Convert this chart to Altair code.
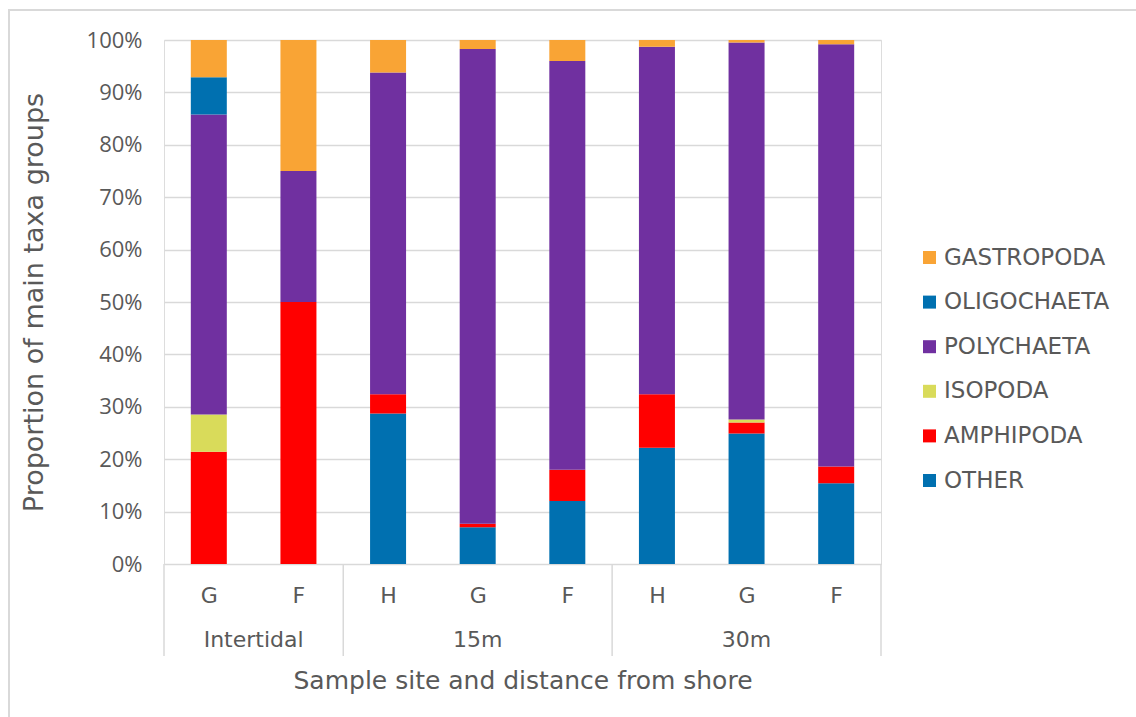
import json
import altair as alt
import pandas as pd

# ---- data ----
groups = ["Intertidal", "Intertidal", "15m", "15m", "15m", "30m", "30m", "30m"]
sites = ["G", "F", "H", "G", "F", "H", "G", "F"]

# stack order, bottom to top
taxa = ["OTHER", "AMPHIPODA", "ISOPODA", "POLYCHAETA", "OLIGOCHAETA", "GASTROPODA"]
OTHER = [0.0, 0.0, 28.7, 7.0, 12.0, 22.2, 24.9, 15.4]
AMPHIPODA = [21.4, 50.0, 3.7, 0.7, 6.0, 10.2, 2.1, 3.2]
ISOPODA = [7.1, 0.0, 0.0, 0.0, 0.0, 0.0, 0.6, 0.0]
POLYCHAETA = [57.2, 25.0, 61.4, 90.6, 78.0, 66.3, 71.9, 80.6]
OLIGOCHAETA = [7.1, 0.0, 0.0, 0.0, 0.0, 0.0, 0.0, 0.0]
GASTROPODA = [7.1, 25.0, 6.2, 1.7, 4.0, 1.3, 0.5, 0.8]

legend_order = ["GASTROPODA", "OLIGOCHAETA", "POLYCHAETA", "ISOPODA", "AMPHIPODA", "OTHER"]
legend_colors = ["#F9A435", "#0070B0", "#7030A0", "#D9DB5A", "#FF0000", "#0070B0"]

series = {
    "OTHER": OTHER, "AMPHIPODA": AMPHIPODA, "ISOPODA": ISOPODA,
    "POLYCHAETA": POLYCHAETA, "OLIGOCHAETA": OLIGOCHAETA, "GASTROPODA": GASTROPODA,
}

rows = []
for i, (g, s) in enumerate(zip(groups, sites)):
    for rank, t in enumerate(taxa):
        rows.append({"pos": i, "group": g, "site": s, "taxon": t,
                     "rank": rank, "value": series[t][i]})
df = pd.DataFrame(rows)

# group centres and boundaries (derived from the category lists)
grp_names, grp_first, grp_last = [], [], []
for i, g in enumerate(groups):
    if not grp_names or grp_names[-1] != g:
        grp_names.append(g)
        grp_first.append(i)
        grp_last.append(i)
    else:
        grp_last[-1] = i
grp_df = pd.DataFrame({"group": grp_names,
                       "center": [(a + b) / 2 for a, b in zip(grp_first, grp_last)]})
bounds = [grp_first[0] - 0.5] + [b + 0.5 for b in grp_last]
bound_df = pd.DataFrame({"b": bounds})

TEXT = "#595959"
GRID = "#D9D9D9"
FONT = "DejaVu Sans"
W, H = 717, 524

xscale = alt.Scale(domain=[-0.5, len(sites) - 0.5], nice=False, zero=False, padding=0)
label_expr = json.dumps(sites) + "[datum.value]"

bars = alt.Chart(df).mark_bar(width=36).encode(
    x=alt.X("pos:Q", scale=xscale,
            axis=alt.Axis(values=list(range(len(sites))), labelExpr=label_expr,
                          ticks=False, domain=False, grid=False,
                          labelFont=FONT, labelFontSize=22, labelColor=TEXT,
                          labelBaseline="middle", labelPadding=31,
                          title="Sample site and distance from shore",
                          titleFont=FONT, titleFontSize=25, titleFontWeight="normal",
                          titleColor=TEXT, titlePadding=62)),
    y=alt.Y("value:Q", stack="normalize",
            scale=alt.Scale(domain=[0, 1]),
            axis=alt.Axis(format=".0%", values=[i / 10 for i in range(11)],
                          ticks=False, domain=False, gridColor=GRID, gridWidth=1.5,
                          labelFont="Open Sans", labelFontSize=22, labelColor=TEXT,
                          labelPadding=22,
                          title="Proportion of main taxa groups",
                          titleFont=FONT, titleFontSize=27, titleFontWeight="normal",
                          titleColor=TEXT, titlePadding=38)),
    color=alt.Color("taxon:N",
                    scale=alt.Scale(domain=legend_order, range=legend_colors),
                    legend=alt.Legend(title=None, orient="none", legendX=754, legendY=206,
                                      symbolType="square", symbolSize=169,
                                      symbolStrokeWidth=0, labelFont=FONT,
                                      labelFontSize=23, labelColor=TEXT, labelLimit=0,
                                      labelOffset=3, rowPadding=20.6, padding=0)),
    order=alt.Order("rank:Q", sort="ascending"),
)

seps = alt.Chart(bound_df).mark_rule(color=GRID, strokeWidth=1.5).encode(
    x=alt.X("b:Q", scale=xscale),
    y=alt.value(H),
    y2=alt.value(H + 92),
)

glabels = alt.Chart(grp_df).mark_text(font=FONT, fontSize=22, color=TEXT,
                                      baseline="middle").encode(
    x=alt.X("center:Q", scale=xscale),
    y=alt.value(H + 76),
    text="group:N",
)

frame = alt.Chart(bound_df).mark_rect(fill=None, stroke=GRID, strokeWidth=1.5).encode(
    x=alt.value(-155), y=alt.value(-30), x2=alt.value(W + 300), y2=alt.value(H + 200),
)

chart = alt.layer(frame, bars, seps, glabels).properties(
    width=W, height=H,
    autosize=alt.AutoSizeParams(type="none"),
    padding={"left": 164, "top": 40, "right": 255, "bottom": 153},
).configure_view(stroke=None).configure(background="white")

chart.save("out.html", embed_options={"renderer": "svg", "actions": False})
